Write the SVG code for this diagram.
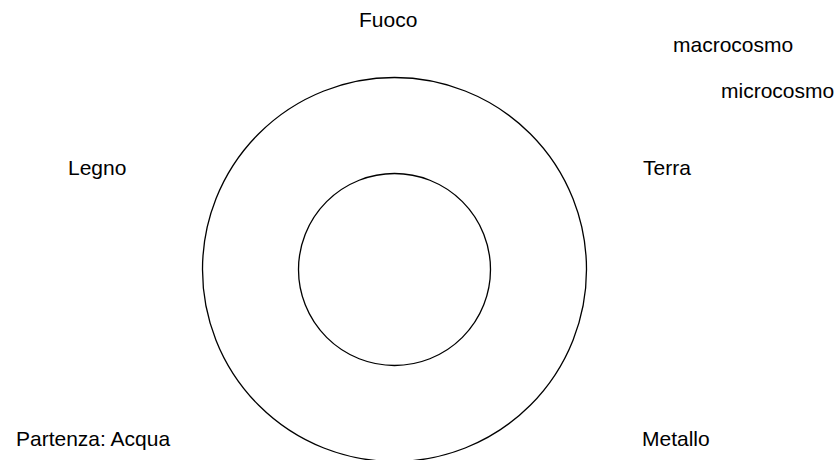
<svg xmlns="http://www.w3.org/2000/svg" width="835" height="460" viewBox="0 0 835 460">
<style>
.lbl{font-family:"Liberation Sans",Arial,sans-serif;font-size:21px;fill:#000}
.ring{fill:none;stroke:#000;stroke-width:1.3}
</style>
<rect width="835" height="460" fill="#fff"/>
<g id="outer-circle"><circle class="ring" cx="394.5" cy="269.5" r="192"/></g>
<g id="inner-circle"><circle class="ring" cx="394.5" cy="269.5" r="96"/></g>
<g id="connectors"></g>
<g id="fuoco"><text class="lbl" x="359" y="27">Fuoco</text></g>
<g id="macrocosmo"><text class="lbl" x="673" y="52">macrocosmo</text></g>
<g id="microcosmo"><text class="lbl" x="721" y="98">microcosmo</text></g>
<g id="legno"><text class="lbl" x="68" y="175">Legno</text></g>
<g id="terra"><text class="lbl" x="643" y="175">Terra</text></g>
<g id="partenza"><text class="lbl" x="16" y="446">Partenza: Acqua</text></g>
<g id="metallo"><text class="lbl" x="642" y="446">Metallo</text></g>
</svg>
